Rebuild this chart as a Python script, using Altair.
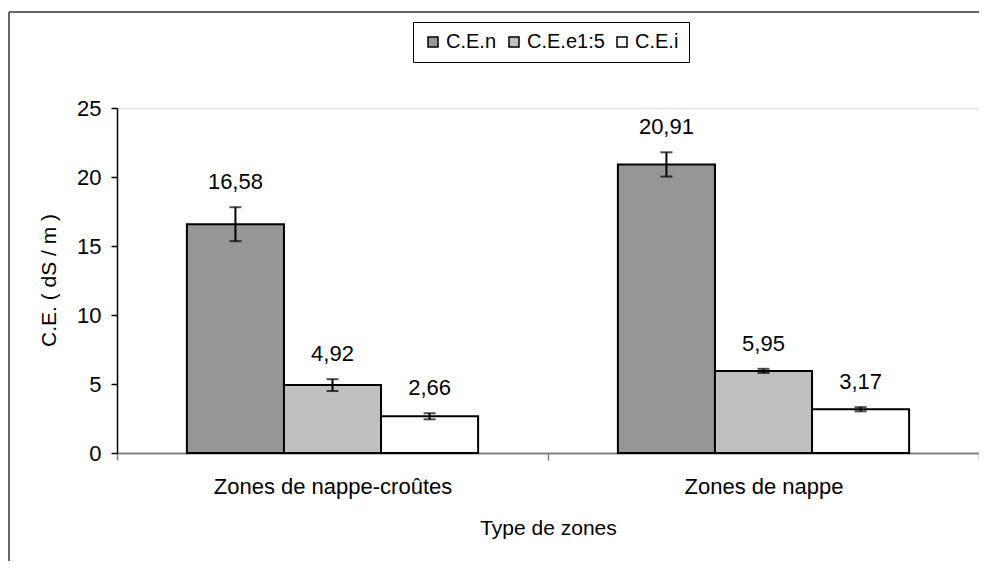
import altair as alt
import pandas as pd

zones = ["Zones de nappe-croûtes", "Zones de nappe"]
series = ["C.E.n", "C.E.e1:5", "C.E.i"]
colors = ["#969696", "#c0c0c0", "#ffffff"]
values_z1 = [16.58, 4.92, 2.66]
values_z2 = [20.91, 5.95, 3.17]
errors_z1 = [1.23, 0.43, 0.22]
errors_z2 = [0.88, 0.15, 0.15]
labels_z1 = ["16,58", "4,92", "2,66"]
labels_z2 = ["20,91", "5,95", "3,17"]
y_ticks = [0, 5, 10, 15, 20, 25]

rows = []
for zone, vals, errs, labs in [(zones[0], values_z1, errors_z1, labels_z1),
                               (zones[1], values_z2, errors_z2, labels_z2)]:
    for s, v, e, l in zip(series, vals, errs, labs):
        rows.append({"zone": zone, "serie": s, "value": v,
                     "lo": v - e, "hi": v + e, "label": l})
df = pd.DataFrame(rows)

FONT = "Liberation Sans"

x_enc = alt.X("zone:N", sort=zones, title="Type de zones",
              scale=alt.Scale(paddingInner=0, paddingOuter=0),
              axis=alt.Axis(labelAngle=0, labelFontSize=22, labelFont=FONT,
                            labelColor="#000000", labelPadding=16, labelLimit=0,
                            tickBand="extent", tickSize=7, tickColor="#808080",
                            tickWidth=1.5,
                            domainColor="#808080", domainWidth=2,
                            titleFontSize=21, titleFont=FONT, titleFontWeight="normal",
                            titleColor="#000000", titlePadding=20))
xo_enc = alt.XOffset("serie:N", sort=series,
                     scale=alt.Scale(paddingOuter=0.72, paddingInner=0))

base = alt.Chart(df)

bars = base.mark_bar(stroke="#000000", strokeWidth=2).encode(
    x=x_enc,
    xOffset=xo_enc,
    y=alt.Y("value:Q", title="C.E. ( dS / m )",
            scale=alt.Scale(domain=[0, 25], nice=False),
            axis=alt.Axis(values=y_ticks, grid=False, labelFontSize=22,
                          labelFont=FONT, labelColor="#000000", labelPadding=10,
                          tickSize=6, tickColor="#000000", tickWidth=1.5,
                          domainColor="#000000", domainWidth=1.5,
                          titleFontSize=21, titleFont=FONT, titleFontWeight="normal",
                          titleColor="#000000",
                          titleX=-68, titleY=172, titleBaseline="middle",
                          titleAlign="center")),
    color=alt.Color("serie:N", sort=series,
                    scale=alt.Scale(domain=series, range=colors),
                    legend=alt.Legend(title=None, orient="none", legendX=296,
                                      legendY=-86, direction="horizontal",
                                      columns=3, symbolType="square",
                                      symbolSize=100, symbolStrokeColor="#000000",
                                      symbolStrokeWidth=1.5, labelFontSize=20,
                                      labelFont=FONT, labelColor="#000000",
                                      labelOffset=3, columnPadding=7,
                                      strokeColor="#000000", padding=10,
                                      fillColor="#ffffff")),
)

rules = base.mark_rule(color="#000000", strokeWidth=2).encode(
    x=alt.X("zone:N", sort=zones), xOffset=xo_enc,
    y=alt.Y("lo:Q"), y2=alt.Y2("hi:Q"))

caps_hi = base.mark_tick(color="#000000", thickness=2, size=12, orient="horizontal").encode(
    x=alt.X("zone:N", sort=zones), xOffset=xo_enc, y=alt.Y("hi:Q"))
caps_lo = base.mark_tick(color="#000000", thickness=2, size=12, orient="horizontal").encode(
    x=alt.X("zone:N", sort=zones), xOffset=xo_enc, y=alt.Y("lo:Q"))

texts = base.mark_text(fontSize=22, font=FONT, color="#000000",
                       baseline="bottom", dy=-13).encode(
    x=alt.X("zone:N", sort=zones), xOffset=xo_enc,
    y=alt.Y("hi:Q"), text="label:N")

frame_data = alt.Data(values=[{"f": 1}])
frame_left = alt.Chart(frame_data).mark_rule(color="#333333", strokeWidth=1.5).encode(
    x=alt.value(-108), y=alt.value(-96), y2=alt.value(1000))
frame_top = alt.Chart(frame_data).mark_rule(color="#333333", strokeWidth=1.5).encode(
    x=alt.value(-108), x2=alt.value(1500), y=alt.value(-96))

chart = alt.layer(frame_left, frame_top, bars, rules, caps_hi, caps_lo, texts).properties(
    width=862, height=345,
    autosize=alt.AutoSizeParams(type="none"),
    padding={"left": 109, "top": 100, "right": 0, "bottom": 108},
).configure_view(stroke=None).configure(background="#ffffff")

chart.save("out.html", embed_options={"renderer": "svg", "actions": False})
